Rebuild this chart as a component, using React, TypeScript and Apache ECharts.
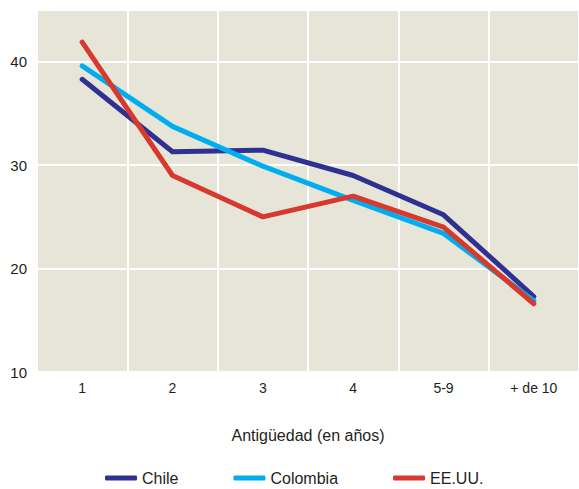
import React, { useEffect, useRef } from "react";
import * as echarts from "echarts";

const categories = ["1", "2", "3", "4", "5-9", "+ de 10"];
const chile = [38.3, 31.3, 31.45, 29.0, 25.2, 17.3];
const colombia = [39.6, 33.75, 29.9, 26.6, 23.4, 16.9];
const eeuu = [41.9, 29.0, 25.0, 27.0, 24.0, 16.6];
const yTicks = [10, 20, 30, 40];

const FONT = "'Liberation Sans', Arial, sans-serif";
const TEXT = "#231f20";

export default function App() {
  const ref = useRef<HTMLDivElement>(null);
  useEffect(() => {
    if (!ref.current) return;
    const chart = echarts.init(ref.current, undefined, { renderer: "svg" });
    const mk = (name: string, data: number[], color: string) => ({
      name,
      type: "line",
      data,
      symbol: "none",
      lineStyle: { color, width: 5, cap: "round", join: "round" },
      itemStyle: { color },
    });
    chart.setOption({
      animation: false,
      textStyle: { fontFamily: FONT },
      grid: {
        left: 37,
        top: 10,
        right: -7,
        bottom: 117,
        show: true,
        backgroundColor: "#e7e5d7",
        borderWidth: 0,
      },
      legend: {
        left: 100,
        top: 465,
        itemWidth: 32,
        itemHeight: 5,
        itemGap: 55,
        icon: "roundRect",
        textStyle: { fontSize: 16, color: TEXT, fontFamily: FONT },
        data: ["Chile", "Colombia", "EE.UU."],
      },
      xAxis: {
        type: "category",
        data: categories,
        boundaryGap: true,
        name: "Antigüedad (en años)",
        nameLocation: "middle",
        nameGap: 55,
        nameTextStyle: { fontSize: 16, color: TEXT, fontFamily: FONT },
        axisLine: { show: false },
        axisTick: { show: false },
        axisLabel: { fontSize: 14, color: TEXT, margin: 9, interval: 0, fontFamily: FONT },
        splitLine: { show: true, interval: 0, lineStyle: { color: "#ffffff", width: 2 } },
      },
      yAxis: {
        type: "value",
        min: 10,
        max: 45,
        interval: 10,
        axisLine: { show: false },
        axisTick: { show: false },
        axisLabel: {
          fontSize: 15,
          color: TEXT,
          margin: 10,
          fontFamily: FONT,
          formatter: (v: number) => (yTicks.includes(v) ? String(v) : ""),
        },
        splitLine: { show: true, lineStyle: { color: "#ffffff", width: 2 } },
      },
      series: [
        mk("Chile", chile, "#2e3192"),
        mk("Colombia", colombia, "#00aeef"),
        mk("EE.UU.", eeuu, "#d7392f"),
      ],
    });
    return () => chart.dispose();
  }, []);
  return <div ref={ref} style={{ width: 579, height: 489, position: "absolute", left: 0, top: 0 }} />;
}
